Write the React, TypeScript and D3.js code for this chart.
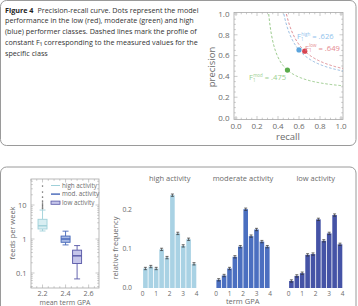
import React from 'react';
import * as d3 from 'd3';

const FONT = "'Open Sans', 'Noto Sans', sans-serif";

// ---- caption ----
const captionLines = [
  'Precision-recall curve. Dots represent the model',
  'performance in the low (red), moderate (green) and high',
  '(blue) performer classes. Dashed lines mark the profile of',
  'constant F\u2081 corresponding to the measured values for the',
  'specific class',
];

// ---- precision-recall panel ----
const prClasses = ['high', 'low', 'mod'];
const prRecall = [0.6, 0.655, 0.49];
const prPrecision = [0.655, 0.643, 0.461];
const prF1 = [0.626, 0.649, 0.475];
const prTicks = [0, 0.2, 0.4, 0.6, 0.8, 1.0];

// ---- box plot: feeds per week vs mean term GPA ----
const boxGroups = ['high activity', 'mod. activity', 'low activity'];
const boxGpa = [2.2, 2.4, 2.5];
const boxWhiskerLow = [1.72, 0.67, 0.067];
const boxQ1 = [1.97, 0.8, 0.19];
const boxMedian = [2.45, 1.0, 0.32];
const boxQ3 = [3.8, 1.22, 0.47];
const boxWhiskerHigh = [7.1, 1.7, 0.64];
const highOutliers = [36, 24, 17, 13, 11.5, 10.5, 9.6, 8.8, 8.2, 7.7];
const boxYTicks = [0.1, 1, 10];
const boxXTicks = [2.2, 2.4, 2.6];

// ---- histograms: relative frequency of term GPA ----
const histTitles = ['high activity', 'moderate activity', 'low activity'];
const histHigh = [0.05, 0.055, 0.05, 0.099, 0.078, 0.238, 0.14, 0.108, 0.125, 0.062];
const histMod = [0.021, 0.032, 0.05, 0.08, 0.106, 0.202, 0.133, 0.15, 0.119, 0.106];
const histLow = [0.018, 0.031, 0.038, 0.085, 0.087, 0.176, 0.121, 0.14, 0.187, 0.112];
const histErr = [0.003, 0.003, 0.003];
const histXTicks = [0, 1, 2, 3, 4];
const histYTicks = [0, 0.1, 0.2];

const prColors = { high: '#5ba4dc', low: '#d64450', mod: '#5aab4c' };
const prLabelColors = { high: '#8fc2ec', low: '#e58a90', mod: '#9ccf90' };
const prCurveColors = { high: '#8ab3de', low: '#d98088', mod: '#8ec480' };
const prLabelPos = { high: [297, 39], low: [305, 50.5], mod: [249, 80] };

const boxStroke = ['#9fd0d9', '#4466b8', '#5656a6'];
const boxFill = ['#d8eef2', '#a9bbe6', '#c6c6ea'];
const histColors = ['#a9d2e4', '#4b6fc0', '#4553a6'];

const grey = '#6b6b6b';
const frameGrey = '#a8a8a8';

function PrPanel() {
  const x = d3.scaleLinear().domain([0, 1]).range([236, 341]);
  const y = d3.scaleLinear().domain([0, 1]).range([118, 14]);
  const fx0 = 234, fx1 = 343, fy0 = 12.5, fy1 = 119.5;
  const minor = d3.range(0, 1.0001, 0.05);
  const line = d3.line<[number, number]>().x(d => x(d[0])).y(d => y(d[1]));
  return (
    <g>
      <defs>
        <clipPath id="prclip">
          <rect x={fx0} y={fy0} width={fx1 - fx0} height={fy1 - fy0} />
        </clipPath>
      </defs>
      <rect x={fx0} y={fy0} width={fx1 - fx0} height={fy1 - fy0} fill="none" stroke={frameGrey} strokeWidth={0.8} />
      {minor.map((t, i) => {
        const major = Math.abs(t * 5 - Math.round(t * 5)) < 1e-6;
        const len = major ? 3.5 : 1.8;
        return (
          <g key={i} stroke={frameGrey} strokeWidth={0.6}>
            <line x1={x(t)} x2={x(t)} y1={fy1} y2={fy1 - len} />
            <line x1={x(t)} x2={x(t)} y1={fy0} y2={fy0 + len} />
            <line y1={y(t)} y2={y(t)} x1={fx0} x2={fx0 + len} />
            <line y1={y(t)} y2={y(t)} x1={fx1} x2={fx1 - len} />
          </g>
        );
      })}
      {prTicks.map(t => (
        <text key={'x' + t} x={x(t)} y={128.5} fontSize={8} fill={grey} textAnchor="middle" fontFamily={FONT}>
          {t.toFixed(1)}
        </text>
      ))}
      {prTicks.map(t => (
        <text key={'y' + t} x={229.5} y={y(t) + 2.8} fontSize={8} fill={grey} textAnchor="end" fontFamily={FONT}>
          {t.toFixed(1)}
        </text>
      ))}
      <text x={288} y={139.5} fontSize={9.5} fill={grey} textAnchor="middle" fontFamily={FONT}>recall</text>
      <text transform="translate(215,67) rotate(-90)" fontSize={9.5} fill={grey} textAnchor="middle" fontFamily={FONT}>precision</text>
      <g clipPath="url(#prclip)">
        {[2, 1, 0].map(i => {
          const F = prF1[i];
          const r0 = F / (2 - F);
          const pts: [number, number][] = d3.range(0, 101).map(k => {
            const r = r0 + ((1.02 - r0) * k) / 100;
            return [r, (F * r) / (2 * r - F)];
          });
          const c = prClasses[i] as keyof typeof prCurveColors;
          return (
            <path key={c} d={line(pts) || ''} fill="none" stroke={prCurveColors[c]} strokeWidth={0.9} strokeDasharray="2.6,1.8" />
          );
        })}
      </g>
      {prClasses.map((c, i) => {
        const k = c as keyof typeof prColors;
        return <circle key={c} cx={x(prRecall[i])} cy={y(prPrecision[i])} r={2.6} fill={prColors[k]} />;
      })}
      {prClasses.map((c, i) => {
        const k = c as keyof typeof prLabelPos;
        const [lx, ly] = prLabelPos[k];
        return (
          <text key={'l' + c} x={lx} y={ly} fontSize={7.6} fill={prLabelColors[k]} fontFamily={FONT}>
            F
            <tspan fontSize={4.5} dx={0.2} dy={1.8}>1</tspan>
            <tspan fontSize={4.5} dx={-2.5} dy={-5.2}>{c}</tspan>
            <tspan dy={3.4}>{' = .' + Math.round(prF1[i] * 1000)}</tspan>
          </text>
        );
      })}
    </g>
  );
}

function BoxPanel() {
  const x = d3.scaleLinear().domain([2.1, 2.69]).range([31, 99]);
  const y = d3.scaleLog().domain([0.0362, 58.2]).range([288, 179]);
  const fx0 = 31, fx1 = 99, fy0 = 179, fy1 = 288;
  const minorY: number[] = [];
  [0.01, 0.1, 1, 10].forEach(d => {
    for (let m = 1; m < 10; m++) {
      const v = d * m;
      if (v > 0.0362 && v < 58.2) minorY.push(v);
    }
  });
  const minorX = d3.range(2.1, 2.69, 0.05);
  const bw = 9;
  return (
    <g>
      <rect x={fx0} y={fy0} width={fx1 - fx0} height={fy1 - fy0} fill="none" stroke={frameGrey} strokeWidth={0.8} />
      {minorY.map((v, i) => {
        const major = boxYTicks.some(t => Math.abs(t - v) < 1e-9);
        const len = major ? 3.5 : 1.8;
        return (
          <g key={i} stroke={frameGrey} strokeWidth={0.6}>
            <line x1={fx0} x2={fx0 + len} y1={y(v)} y2={y(v)} />
            <line x1={fx1} x2={fx1 - len} y1={y(v)} y2={y(v)} />
          </g>
        );
      })}
      {minorX.map((v, i) => {
        const major = boxXTicks.some(t => Math.abs(t - v) < 1e-6);
        const len = major ? 3.5 : 1.8;
        return (
          <g key={i} stroke={frameGrey} strokeWidth={0.6}>
            <line x1={x(v)} x2={x(v)} y1={fy1} y2={fy1 - len} />
            <line x1={x(v)} x2={x(v)} y1={fy0} y2={fy0 + len} />
          </g>
        );
      })}
      {boxYTicks.map(t => (
        <text key={t} x={26.5} y={y(t) + 2.6} fontSize={7.5} fill={grey} textAnchor="end" fontFamily={FONT}>
          {String(t)}
        </text>
      ))}
      {boxXTicks.map(t => (
        <text key={t} x={x(t)} y={296.3} fontSize={7.2} fill={grey} textAnchor="middle" fontFamily={FONT}>
          {t.toFixed(1)}
        </text>
      ))}
      <text x={65} y={305.2} fontSize={6.9} fill={grey} textAnchor="middle" fontFamily={FONT}>mean term GPA</text>
      <text transform="translate(15,233) rotate(-90)" fontSize={7.5} fill={grey} textAnchor="middle" fontFamily={FONT}>feeds per week</text>
      {highOutliers.map((v, i) => (
        <circle key={i} cx={x(boxGpa[0])} cy={y(v)} r={0.8} fill="#777" />
      ))}
      {boxGroups.map((g, i) => {
        const cx = x(boxGpa[i]);
        return (
          <g key={g} stroke={boxStroke[i]} strokeWidth={0.9}>
            <line x1={cx} x2={cx} y1={y(boxWhiskerHigh[i])} y2={y(boxQ3[i])} />
            <line x1={cx} x2={cx} y1={y(boxQ1[i])} y2={y(boxWhiskerLow[i])} />
            <line x1={cx - 3} x2={cx + 3} y1={y(boxWhiskerHigh[i])} y2={y(boxWhiskerHigh[i])} />
            <line x1={cx - 3} x2={cx + 3} y1={y(boxWhiskerLow[i])} y2={y(boxWhiskerLow[i])} />
            <rect x={cx - bw / 2} y={y(boxQ3[i])} width={bw} height={y(boxQ1[i]) - y(boxQ3[i])} fill={boxFill[i]} />
            <line x1={cx - bw / 2} x2={cx + bw / 2} y1={y(boxMedian[i])} y2={y(boxMedian[i])} strokeWidth={1.4} />
          </g>
        );
      })}
      {boxGroups.map((g, i) => {
        const ly = 185.5 + i * 8.6;
        return (
          <g key={'lg' + g}>
            {i < 2 ? (
              <line x1={51} x2={60} y1={ly} y2={ly} stroke={boxStroke[i]} strokeWidth={i === 0 ? 1 : 1.4} />
            ) : (
              <rect x={51} y={ly - 1.6} width={9} height={3.2} fill={boxFill[i]} stroke={boxStroke[i]} strokeWidth={0.8} />
            )}
            <text x={62} y={ly + 2} fontSize={6.3} fill={grey} fontFamily={FONT}>{g}</text>
          </g>
        );
      })}
    </g>
  );
}

function HistPanel() {
  const y = d3.scaleLinear().domain([0, 0.2]).range([288, 210]);
  const panelX = [142.7, 216, 288.7];
  const series = [histHigh, histMod, histLow];
  const bins = d3.range(0, 10).map(k => k * 0.4);
  return (
    <g>
      {histYTicks.map(t => (
        <text key={t} x={132} y={y(t) + 2.4} fontSize={6.8} fill={grey} textAnchor="end" fontFamily={FONT}>
          {t.toFixed(1)}
        </text>
      ))}
      <text transform="translate(118,248) rotate(-90)" fontSize={7.5} fill={grey} textAnchor="middle" fontFamily={FONT}>relative frequency</text>
      {series.map((vals, p) => {
        const x = d3.scaleLinear().domain([0, 4]).range([panelX[p], panelX[p] + 54]);
        return (
          <g key={p}>
            <text x={x(2)} y={181} fontSize={7.5} fill={grey} textAnchor="middle" fontFamily={FONT}>{histTitles[p]}</text>
            {vals.map((v, i) => (
              <rect key={i} x={x(bins[i]) + 0.4} y={y(v)} width={x(bins[i] + 0.4) - x(bins[i]) - 0.8} height={y(0) - y(v)} fill={histColors[p]} />
            ))}
            {vals.map((v, i) => {
              const cx = (x(bins[i]) + x(bins[i] + 0.4)) / 2;
              return (
                <g key={'e' + i} stroke="#333" strokeWidth={0.7}>
                  <line x1={cx} x2={cx} y1={y(v + histErr[p])} y2={y(v - histErr[p])} />
                  <line x1={cx - 1.5} x2={cx + 1.5} y1={y(v + histErr[p])} y2={y(v + histErr[p])} />
                  <line x1={cx - 1.5} x2={cx + 1.5} y1={y(v - histErr[p])} y2={y(v - histErr[p])} />
                </g>
              );
            })}
            {histXTicks.map(t => (
              <text key={t} x={x(t)} y={295.5} fontSize={6.5} fill={grey} textAnchor="middle" fontFamily={FONT}>{t}</text>
            ))}
          </g>
        );
      })}
      <text x={242.7} y={304} fontSize={7.5} fill={grey} textAnchor="middle" fontFamily={FONT}>term GPA</text>
    </g>
  );
}

export default function App() {
  return (
    <svg width={358} height={306} style={{ position: 'absolute', left: 0, top: 0, background: '#fff' }}>
      <rect x={0.5} y={0.5} width={355.5} height={145} rx={6} fill="#fff" stroke="#9a9a9a" strokeWidth={1} />
      <rect x={0.5} y={167} width={355.5} height={160} rx={6} fill="#fff" stroke="#9a9a9a" strokeWidth={1} />
      <g fontFamily={FONT} fontSize={7.2} fill="#333">
        <text x={5} y={12.5}>
          <tspan fontWeight="bold" fill="#222">Figure 4</tspan>
          <tspan dx={4}>{captionLines[0]}</tspan>
        </text>
        {captionLines.slice(1).map((l, i) => (
          <text key={i} x={5} y={23.3 + i * 10.8}>{l}</text>
        ))}
      </g>
      <PrPanel />
      <BoxPanel />
      <HistPanel />
    </svg>
  );
}
